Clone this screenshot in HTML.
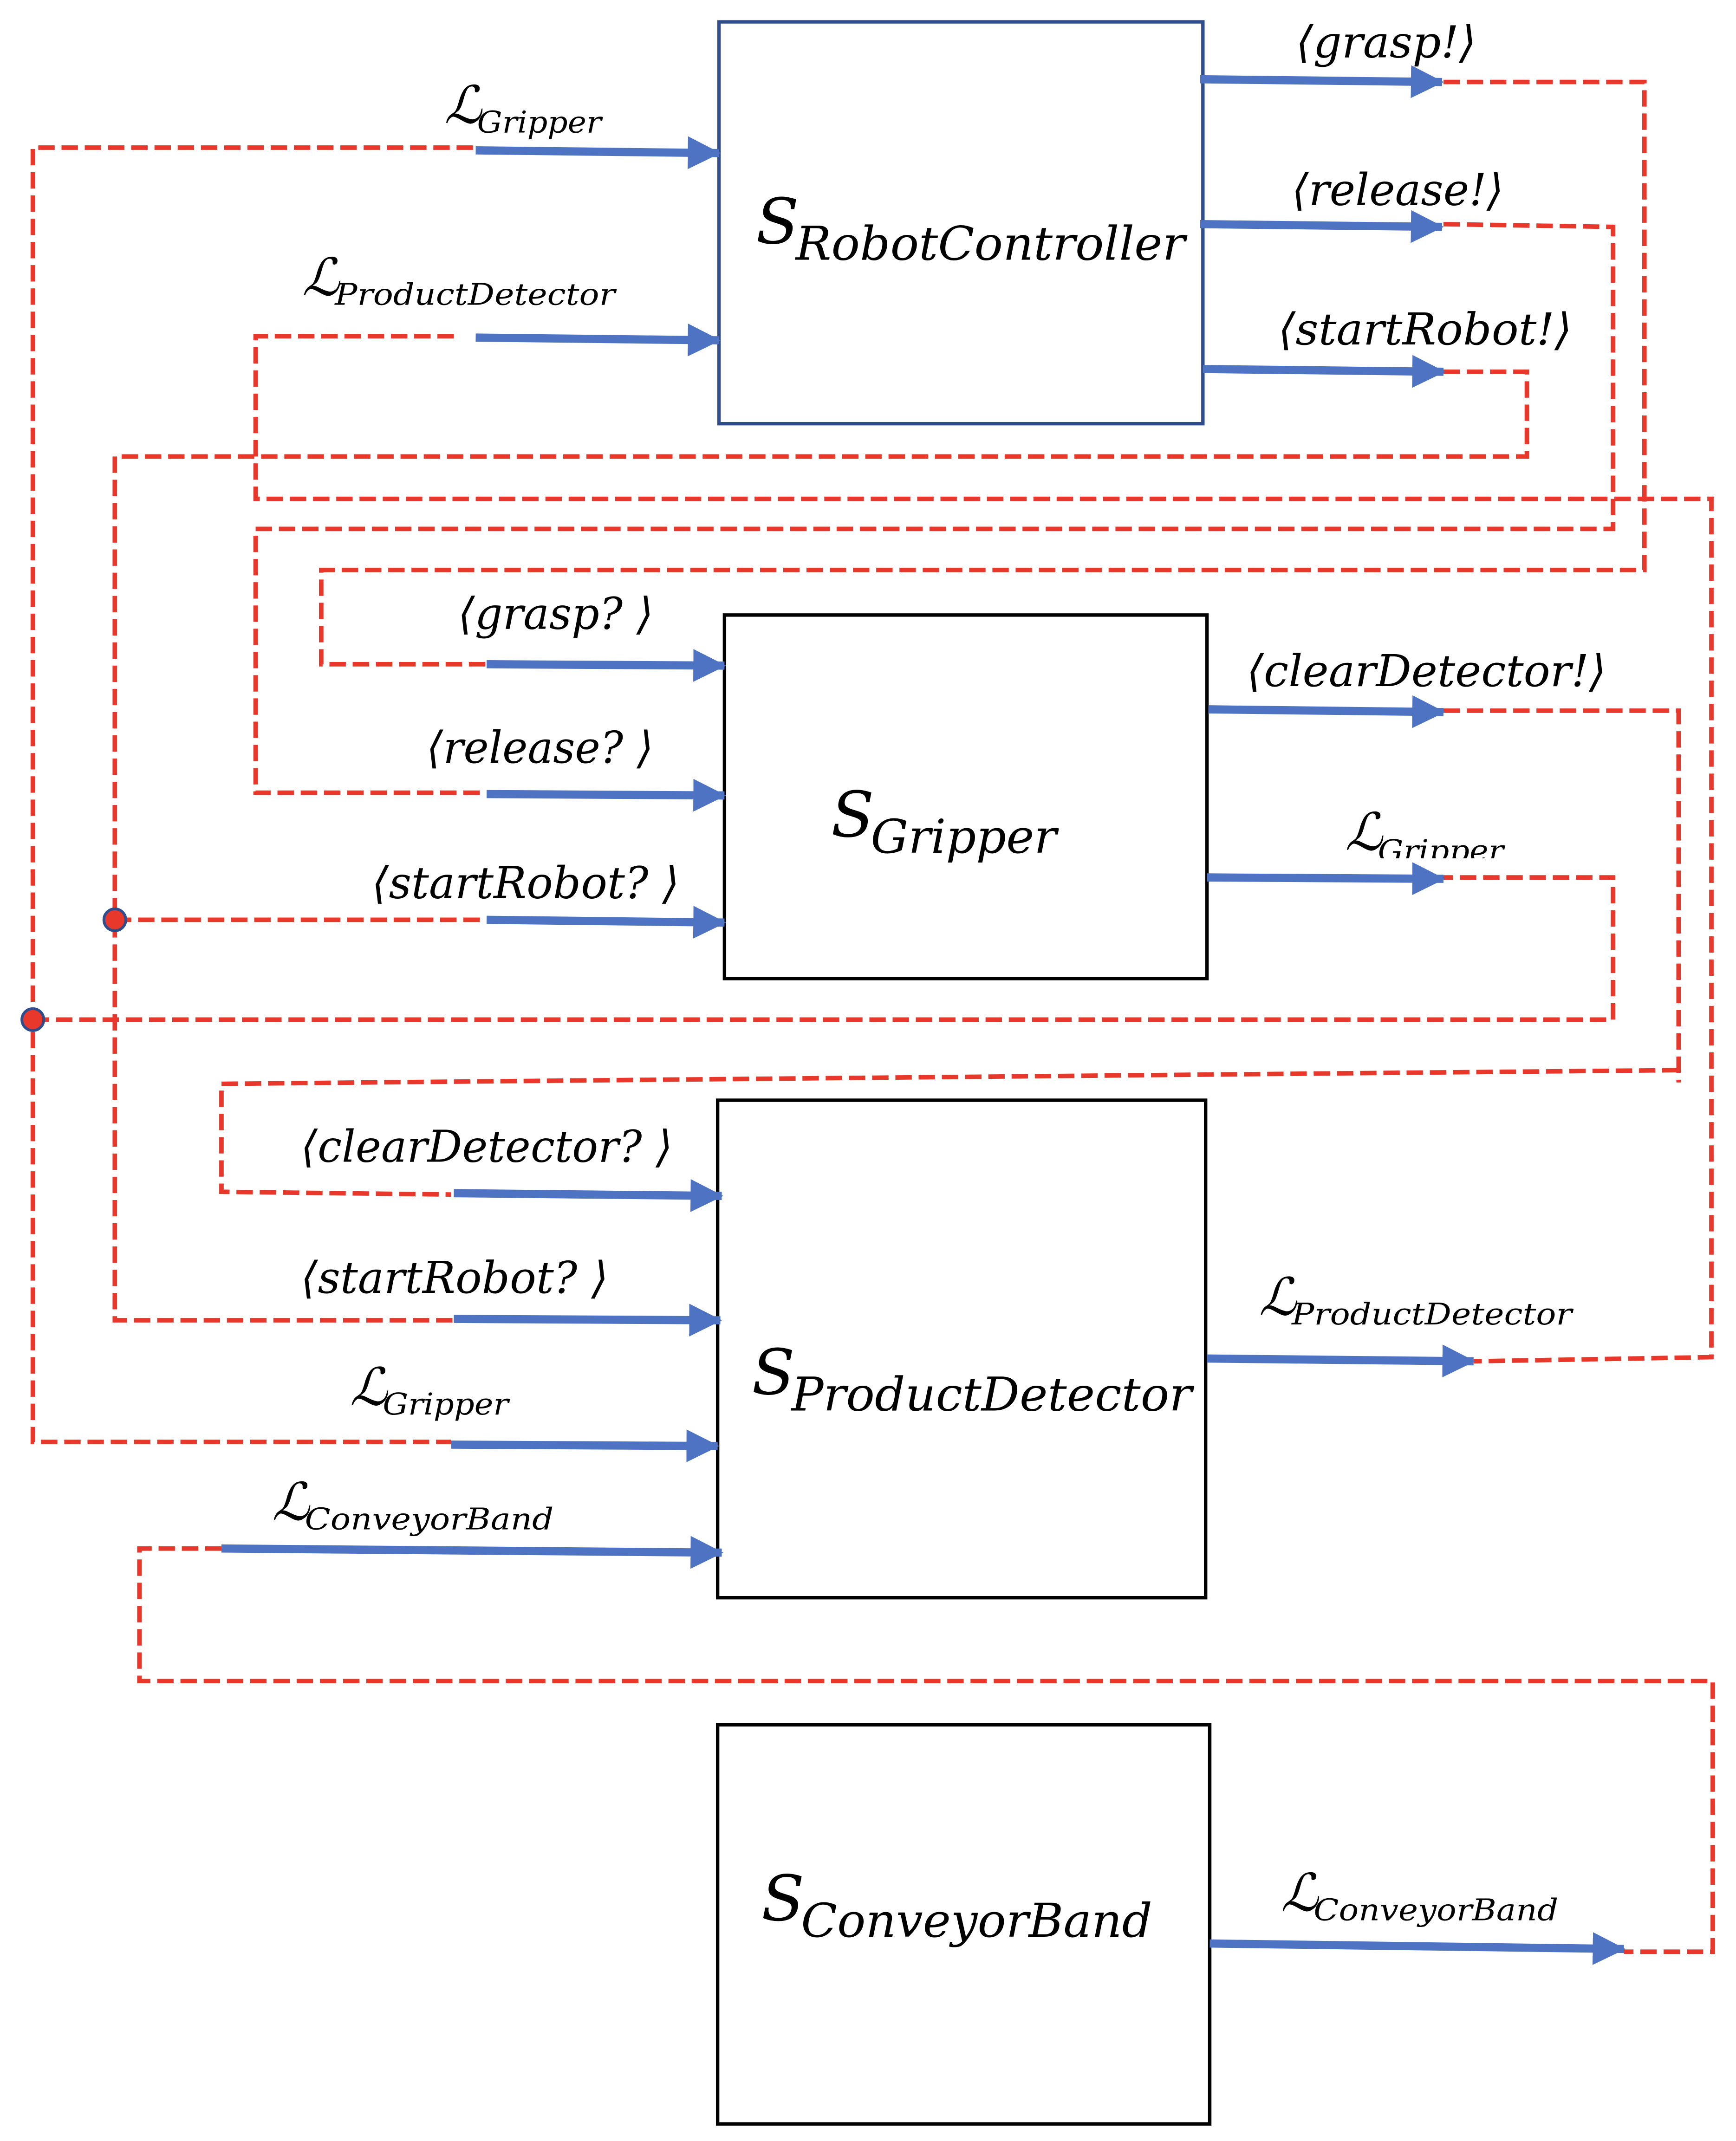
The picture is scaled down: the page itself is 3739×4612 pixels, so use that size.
<!DOCTYPE html>
<html><head><meta charset="utf-8"><style>
html,body{margin:0;padding:0;background:#fff;}
svg{display:block;}
text{font-family:"DejaVu Serif","Liberation Serif",serif;font-style:italic;fill:#000;}
</style></head><body>
<svg width="3739" height="4612" viewBox="0 0 1270 1566.5" preserveAspectRatio="none" xmlns="http://www.w3.org/2000/svg">
<defs>
<marker id="ah" markerWidth="4" markerHeight="4" refX="3.8" refY="2" orient="auto" markerUnits="strokeWidth">
<path d="M0,0 L4,2 L0,4 Z" fill="#4F73C3"/></marker>
<clipPath id="cl"><rect x="0" y="0" width="1270" height="628"/></clipPath>
</defs>
<rect width="1270" height="1567" fill="#fff"/>
<rect x="526" y="16" width="354" height="294" fill="none" stroke="#2F4C8C" stroke-width="2.5"/>
<rect x="530" y="450" width="353" height="266" fill="none" stroke="#000" stroke-width="2.5"/>
<rect x="525" y="805" width="357" height="364" fill="none" stroke="#000" stroke-width="2.5"/>
<rect x="525" y="1262" width="360" height="292" fill="none" stroke="#000" stroke-width="2.5"/>
<g fill="none" stroke="#E8382B" stroke-width="3.3" stroke-dasharray="12,5">
<path d="M346,108 H24 V1055 H330"/>
<path d="M24,746 H1180 V642 H1056"/>
<path d="M332,246 H187 V365 H1252 V993 L1078,996"/>
<path d="M1056,60 H1203 V417 H235 V486 H356"/>
<path d="M1056,164 L1180,166 V387 H187 V580 H356"/>
<path d="M1056,272 H1117 V334 H84 V966 H332"/>
<path d="M84,673 H356"/>
<path d="M1056,520 H1228 V792"/>
<path d="M1228,783 L162,793 V872 L330,874"/>
<path d="M162,1133 H102 V1230 H1253 V1428 H1188"/>
</g>
<g stroke="#4F73C3" stroke-width="6" fill="none" marker-end="url(#ah)">
<path d="M348,110 L526,112"/>
<path d="M348,247 L526,249"/>
<path d="M878,58 L1055,60"/>
<path d="M878,164 L1055,166"/>
<path d="M880,270 L1056,272"/>
<path d="M356,486 L530,487"/>
<path d="M356,581 L530,582"/>
<path d="M356,673 L530,675"/>
<path d="M884,519 L1056,521"/>
<path d="M883,642 L1056,643"/>
<path d="M332,873 L528,875"/>
<path d="M332,965 L527,966"/>
<path d="M330,1057 L525,1058"/>
<path d="M162,1133 L528,1136"/>
<path d="M883,994 L1078,996"/>
<path d="M885,1422 L1188,1426"/>
</g>
<circle cx="84" cy="673" r="8" fill="#E8382B" stroke="#2F4C8C" stroke-width="2"/>
<circle cx="24" cy="746" r="8" fill="#E8382B" stroke="#2F4C8C" stroke-width="2"/>
<g font-size="32">
<text x="948" y="42" textLength="132" lengthAdjust="spacingAndGlyphs">⟨grasp!⟩</text>
<text x="945" y="150" textLength="155" lengthAdjust="spacingAndGlyphs">⟨release!⟩</text>
<text x="935" y="252" textLength="215" lengthAdjust="spacingAndGlyphs">⟨startRobot!⟩</text>
<text x="335" y="460" textLength="143" lengthAdjust="spacingAndGlyphs">⟨grasp? ⟩</text>
<text x="312" y="558" textLength="166" lengthAdjust="spacingAndGlyphs">⟨release? ⟩</text>
<text x="272" y="657" textLength="225" lengthAdjust="spacingAndGlyphs">⟨startRobot? ⟩</text>
<text x="912" y="502" textLength="263" lengthAdjust="spacingAndGlyphs">⟨clearDetector!⟩</text>
<text x="220" y="850" textLength="272" lengthAdjust="spacingAndGlyphs">⟨clearDetector? ⟩</text>
<text x="220" y="946" textLength="225" lengthAdjust="spacingAndGlyphs">⟨startRobot? ⟩</text>
</g>
<g>
<text x="325" y="90" font-size="38" font-style="normal">ℒ</text><text x="349" y="97" font-size="22" textLength="91" lengthAdjust="spacingAndGlyphs">Gripper</text>
<text x="221" y="216" font-size="38" font-style="normal">ℒ</text><text x="245" y="223" font-size="22" textLength="205" lengthAdjust="spacingAndGlyphs">ProductDetector</text>
<g clip-path="url(#cl)"><text x="984" y="622" font-size="38" font-style="normal">ℒ</text><text x="1008" y="630" font-size="22" textLength="92" lengthAdjust="spacingAndGlyphs">Gripper</text></g>
<text x="256" y="1028" font-size="38" font-style="normal">ℒ</text><text x="280" y="1035" font-size="22" textLength="92" lengthAdjust="spacingAndGlyphs">Gripper</text>
<text x="199" y="1112" font-size="38" font-style="normal">ℒ</text><text x="223" y="1119" font-size="22" textLength="182" lengthAdjust="spacingAndGlyphs">ConveyorBand</text>
<text x="921" y="962" font-size="38" font-style="normal">ℒ</text><text x="945" y="969" font-size="22" textLength="205" lengthAdjust="spacingAndGlyphs">ProductDetector</text>
<text x="937" y="1398" font-size="38" font-style="normal">ℒ</text><text x="961" y="1405" font-size="22" textLength="179" lengthAdjust="spacingAndGlyphs">ConveyorBand</text>
</g>
<g>
<text x="553" y="178" font-size="46">S</text><text x="582" y="190" font-size="34" textLength="285" lengthAdjust="spacingAndGlyphs">RobotController</text>
<text x="608" y="612" font-size="46">S</text><text x="637" y="624" font-size="34" textLength="136" lengthAdjust="spacingAndGlyphs">Gripper</text>
<text x="550" y="1020" font-size="46">S</text><text x="579" y="1032" font-size="34" textLength="293" lengthAdjust="spacingAndGlyphs">ProductDetector</text>
<text x="557" y="1405" font-size="46">S</text><text x="586" y="1417" font-size="34" textLength="257" lengthAdjust="spacingAndGlyphs">ConveyorBand</text>
</g>
</svg>
</body></html>
